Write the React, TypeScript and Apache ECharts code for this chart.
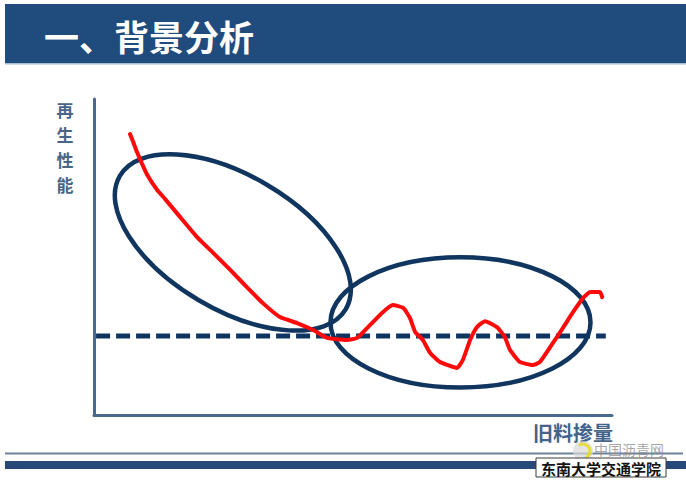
import React, { useEffect, useRef } from "react";
import * as echarts from "echarts";

// Red performance curve (x: RAP content, y: regeneration performance)
const curveX = [6.95, 7.5, 8.3, 9.3, 10.4, 12.2, 13.7, 16.6, 19.9, 23.0, 26.3, 29.5, 32.6, 35.9, 39.2, 42.3, 45.0, 48.8, 50.8, 53.3, 55.8, 57.7, 59.7, 61.0, 62.0, 63.5, 64.9, 66.8, 70.1, 71.2, 72.6, 73.9, 75.5, 77.8, 79.3, 80.3, 82.2, 84.7, 86.1, 88.6, 90.5, 92.5, 94.4, 95.8, 97.7, 98.1];
const curveY = [88.9, 86.7, 83.2, 79.4, 75.6, 71.2, 68.4, 62.7, 56.3, 51.3, 45.9, 40.5, 35.4, 31.0, 29.1, 26.9, 24.4, 23.7, 24.4, 28.5, 32.6, 34.8, 33.9, 30.7, 26.3, 23.7, 19.6, 16.8, 14.9, 17.4, 23.7, 27.8, 29.7, 27.8, 24.7, 20.6, 16.8, 15.8, 16.8, 22.8, 27.5, 32.6, 37.0, 38.9, 38.9, 37.3];

// Dashed reference level
const baselineX = [0.4, 98.8];
const baselineY = 25;

// Highlight ellipses (centre, semi-axes in axis units, tilt in degrees clockwise)
const ellipseCX = [26.8, 70.75];
const ellipseCY = [54.6, 29.3];
const ellipseRX = [25.3, 25.1];
const ellipseRY = [21.2, 20.6];
const ellipseTilt = [30.5, 0];

const titleText = "一、背景分析";
const yAxisLabel = "再生性能";
const xAxisLabel = "旧料掺量";
const footerText = "东南大学交通学院";
const watermarkText = "中国沥青网";

const FONT = '"Noto Sans CJK SC", "Noto Sans", sans-serif';

export default function App() {
  const ref = useRef<HTMLDivElement>(null);

  useEffect(() => {
    if (!ref.current) return;
    const chart = echarts.init(ref.current, null, { renderer: "svg" });

    const curveData = curveX.map((x, i) => [x, curveY[i]]);
    const baselineData = baselineX.map((x) => [x, baselineY]);
    const ellipseData = ellipseCX.map((cx, i) => [cx, ellipseCY[i], ellipseRX[i], ellipseRY[i], ellipseTilt[i]]);

    const yLabelChars = yAxisLabel.split("").map((ch, i) => ({
      type: "text",
      x: 65,
      y: 109 + i * 25,
      style: { text: ch, fill: "#4a6586", font: `bold 17px ${FONT}`, lineHeight: 17, textAlign: "center", textVerticalAlign: "middle" },
    }));

    chart.setOption({
      animation: false,
      backgroundColor: "#ffffff",
      grid: { left: 94, top: 99, right: 74, bottom: 69, containLabel: false },
      xAxis: {
        type: "value",
        min: 0,
        max: 100,
        axisLine: { show: true, onZero: false, lineStyle: { color: "#49698f", width: 3 } },
        axisTick: { show: false },
        axisLabel: { show: false },
        splitLine: { show: false },
      },
      yAxis: {
        type: "value",
        min: 0,
        max: 100,
        axisLine: { show: true, onZero: false, lineStyle: { color: "#49698f", width: 3 } },
        axisTick: { show: false },
        axisLabel: { show: false },
        splitLine: { show: false },
      },
      graphic: [
        { type: "rect", shape: { x: 5, y: 4, width: 681, height: 59 }, style: { fill: "#1f4b7d" } },
        { type: "rect", shape: { x: 5, y: 63, width: 681, height: 1.5 }, style: { fill: "#a9bcd2" } },
        {
          type: "text",
          x: 44,
          y: 35,
          style: { text: titleText, fill: "#ffffff", font: `bold 35px ${FONT}`, lineHeight: 35, textVerticalAlign: "middle", textAlign: "left" },
        },
        ...yLabelChars,
        {
          type: "text",
          x: 533,
          y: 432,
          style: { text: xAxisLabel, fill: "#44658a", font: `bold 20px ${FONT}`, lineHeight: 20, textVerticalAlign: "middle", textAlign: "left" },
        },
        { type: "rect", shape: { x: 5, y: 452.5, width: 678, height: 2 }, style: { fill: "#6c819c" } },
        { type: "rect", shape: { x: 5, y: 461, width: 681, height: 8 }, style: { fill: "#27497a" } },
        { type: "circle", shape: { cx: 583, cy: 451, r: 10 }, style: { fill: "#d9d9d9", opacity: 0.7 } },
        { type: "arc", shape: { cx: 583, cy: 451, r: 7, startAngle: -2.2, endAngle: 1.2 }, style: { stroke: "#e8d92a", lineWidth: 3, fill: "none", opacity: 0.9 } },
        {
          type: "text",
          x: 594,
          y: 449,
          style: { text: watermarkText, fill: "#8a8a8a", opacity: 0.75, font: `14px ${FONT}`, lineHeight: 14, textVerticalAlign: "middle", textAlign: "left" },
        },
        { type: "rect", shape: { x: 536, y: 458, width: 130, height: 19 }, style: { fill: "#ffffff", stroke: "#3a3a3a", lineWidth: 1 } },
        {
          type: "text",
          x: 601,
          y: 468,
          style: { text: footerText, fill: "#141414", font: `bold 15px ${FONT}`, lineHeight: 15, textVerticalAlign: "middle", textAlign: "center" },
        },
      ],
      series: [
        {
          type: "line",
          data: baselineData,
          symbol: "none",
          z: 2,
          lineStyle: { color: "#0e3461", width: 5, type: [14, 6] },
        },
        {
          type: "custom",
          data: ellipseData,
          encode: { x: 0, y: 1 },
          z: 3,
          clip: false,
          renderItem: (params: any, api: any) => {
            const c = api.coord([api.value(0), api.value(1)]);
            const rx = api.size([api.value(2), 0])[0];
            const ry = api.size([0, api.value(3)])[1];
            return {
              type: "ellipse",
              x: c[0],
              y: c[1],
              rotation: (-api.value(4) * Math.PI) / 180,
              shape: { cx: 0, cy: 0, rx, ry },
              style: { fill: "none", stroke: "#10355f", lineWidth: 4.5 },
            };
          },
        },
        {
          type: "line",
          data: curveData,
          symbol: "none",
          smooth: 0.15,
          z: 4,
          lineStyle: { color: "#ff0a0a", width: 4, join: "round", cap: "round" },
        },
      ],
    });

    return () => chart.dispose();
  }, []);

  return <div ref={ref} style={{ position: "fixed", left: 0, top: 0, width: 686, height: 484 }} />;
}
